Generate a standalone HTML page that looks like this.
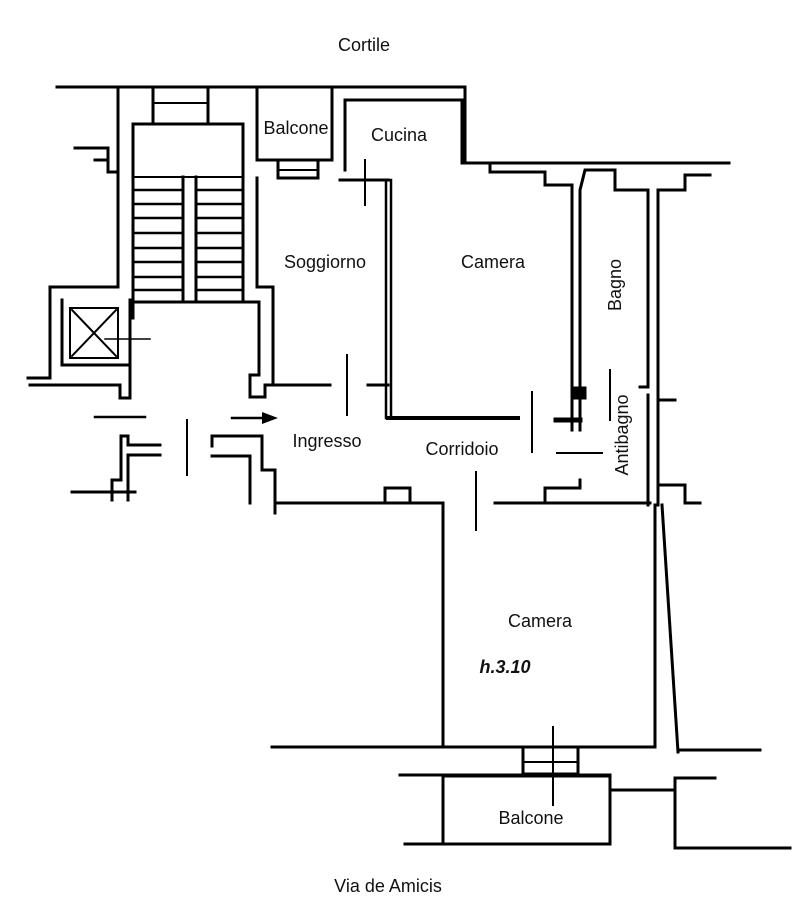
<!DOCTYPE html>
<html><head><style>
html,body{margin:0;padding:0;background:#fff;}
svg{display:block;}
text{font-family:"Liberation Sans",sans-serif;font-size:18px;fill:#111;}
</style></head><body>
<svg width="800" height="915" viewBox="0 0 800 915" xmlns="http://www.w3.org/2000/svg">
<g fill="none" stroke="#000" stroke-width="3" stroke-linecap="square">
<!-- top outer wall -->
<polyline points="57,87 465,87 465,163 729,163"/>
<!-- balcony top -->
<polyline points="257,87 257,160 332,160 332,87"/>
<rect x="278" y="160" width="40" height="18"/>
<line x1="278" y1="170" x2="318" y2="170" stroke-width="2"/>
<!-- kitchen -->
<polyline points="345,170 345,100 462,100 462,163"/>
<polyline points="340,180 388,180"/>
<line x1="365" y1="160" x2="365" y2="205" stroke-width="2"/>
<!-- left building -->
<polyline points="118,87 118,287"/>
<polyline points="75,148 108,148 108,172 118,172"/>
<polyline points="95,160 108,160"/>
<!-- window top -->
<rect x="153" y="87" width="55" height="37"/>
<line x1="153" y1="103" x2="208" y2="103" stroke-width="2"/>
<!-- stairs -->
<polyline points="133,302 133,124 243,124 243,302"/>
<line x1="133" y1="177" x2="243" y2="177" stroke-width="2"/>
<line x1="183" y1="177" x2="183" y2="302"/>
<line x1="196" y1="177" x2="196" y2="302"/>
<g stroke-width="2.5">
<line x1="133" y1="190" x2="183" y2="190"/><line x1="196" y1="190" x2="243" y2="190"/>
<line x1="133" y1="204" x2="183" y2="204"/><line x1="196" y1="204" x2="243" y2="204"/>
<line x1="133" y1="218" x2="183" y2="218"/><line x1="196" y1="218" x2="243" y2="218"/>
<line x1="133" y1="233" x2="183" y2="233"/><line x1="196" y1="233" x2="243" y2="233"/>
<line x1="133" y1="248" x2="183" y2="248"/><line x1="196" y1="248" x2="243" y2="248"/>
<line x1="133" y1="262" x2="183" y2="262"/><line x1="196" y1="262" x2="243" y2="262"/>
<line x1="133" y1="277" x2="183" y2="277"/><line x1="196" y1="277" x2="243" y2="277"/>
<line x1="133" y1="290" x2="183" y2="290"/><line x1="196" y1="290" x2="243" y2="290"/>
</g>
<!-- stair landing -->
<polyline points="133,302 259,302 259,375 250,375 250,397 265,397 265,385 330,385"/>
<polyline points="257,178 257,287 273,287 273,385"/>
<!-- elevator -->
<polyline points="28,378 50,378 50,287 118,287"/>
<polyline points="62,300 62,365 130,365 130,300 133,300 133,318"/>
<rect x="70" y="308" width="48" height="50" stroke-width="2"/>
<line x1="72" y1="310" x2="116" y2="356" stroke-width="2"/>
<line x1="116" y1="310" x2="72" y2="356" stroke-width="2"/>
<line x1="105" y1="339" x2="150" y2="339" stroke-width="1.5"/>
<polyline points="30,385 120,385 120,398 130,398 130,355" stroke-width="3"/>
<!-- entrance -->
<line x1="95" y1="417" x2="145" y2="417" stroke-width="2.5"/>
<line x1="232" y1="418" x2="262" y2="418" stroke-width="2.5"/>
<line x1="187" y1="420" x2="187" y2="475" stroke-width="2"/>
<polyline points="160,445 128,445 128,436 121,436 121,480 112,480 112,500"/>
<polyline points="160,455 128,455 128,500"/>
<line x1="72" y1="492" x2="135" y2="492"/>
<polyline points="212,446 212,436 262,436 262,470 275,470 275,513"/>
<polyline points="212,456 250,456 250,503"/>
<!-- soggiorno / camera -->
<line x1="347" y1="355" x2="347" y2="415" stroke-width="2"/>
<polyline points="368,385 388,385"/>
<rect x="386" y="180" width="5" height="238" stroke-width="2.5"/>
<polyline points="388,418 518,418" stroke-width="4"/>
<line x1="532" y1="392" x2="532" y2="452" stroke-width="2"/>
<!-- top right -->
<polyline points="490,163 490,172 545,172 545,185 572,185 572,430"/>
<polyline points="580,430 580,190 585,170 615,170 615,190 648,190 648,387 640,387"/>
<polyline points="658,505 658,190 685,190 685,175 710,175"/>
<rect x="575" y="388" width="10" height="10" fill="#000"/>
<line x1="556" y1="420" x2="580" y2="420" stroke-width="5"/>
<line x1="610" y1="370" x2="610" y2="420" stroke-width="2"/>
<line x1="557" y1="453" x2="602" y2="453" stroke-width="2"/>
<polyline points="648,395 648,505"/>
<polyline points="660,400 675,400"/>
<polyline points="660,485 685,485 685,503 700,503"/>
<!-- corridor bottom -->
<polyline points="275,503 443,503 443,747 272,747"/>
<polyline points="385,500 385,488 410,488 410,500"/>
<line x1="476" y1="472" x2="476" y2="530" stroke-width="2"/>
<polyline points="495,503 650,503"/>
<polyline points="545,503 545,488 580,488 580,480"/>
<!-- lower camera -->
<polyline points="443,747 655,747 655,505"/>
<line x1="662" y1="505" x2="678" y2="752"/>
<line x1="678" y1="750" x2="760" y2="750"/>
<rect x="523" y="747" width="55" height="27"/>
<line x1="523" y1="762" x2="578" y2="762" stroke-width="2"/>
<line x1="553" y1="727" x2="553" y2="805" stroke-width="2"/>
<polyline points="400,775 610,775"/>
<rect x="443" y="776" width="167" height="68"/>
<line x1="405" y1="844" x2="443" y2="844"/>
<polyline points="610,790 675,790"/>
<polyline points="675,778 675,848 790,848"/>
<line x1="675" y1="778" x2="715" y2="778"/>
</g>
<text x="364" y="51" text-anchor="middle">Cortile</text>
<text x="296" y="134" text-anchor="middle">Balcone</text>
<text x="399" y="141" text-anchor="middle">Cucina</text>
<text x="325" y="268" text-anchor="middle">Soggiorno</text>
<text x="493" y="268" text-anchor="middle">Camera</text>
<text transform="translate(621,285) rotate(-90)" text-anchor="middle">Bagno</text>
<text transform="translate(628,435) rotate(-90)" text-anchor="middle">Antibagno</text>
<text x="327" y="447" text-anchor="middle">Ingresso</text>
<text x="462" y="455" text-anchor="middle">Corridoio</text>
<text x="540" y="627" text-anchor="middle">Camera</text>
<text x="505" y="673" text-anchor="middle" font-style="italic" font-weight="bold">h.3.10</text>
<text x="531" y="824" text-anchor="middle">Balcone</text>
<text x="388" y="892" text-anchor="middle">Via de Amicis</text>
<polygon points="262,412 278,418 262,424" fill="#000"/>
</svg>
</body></html>
